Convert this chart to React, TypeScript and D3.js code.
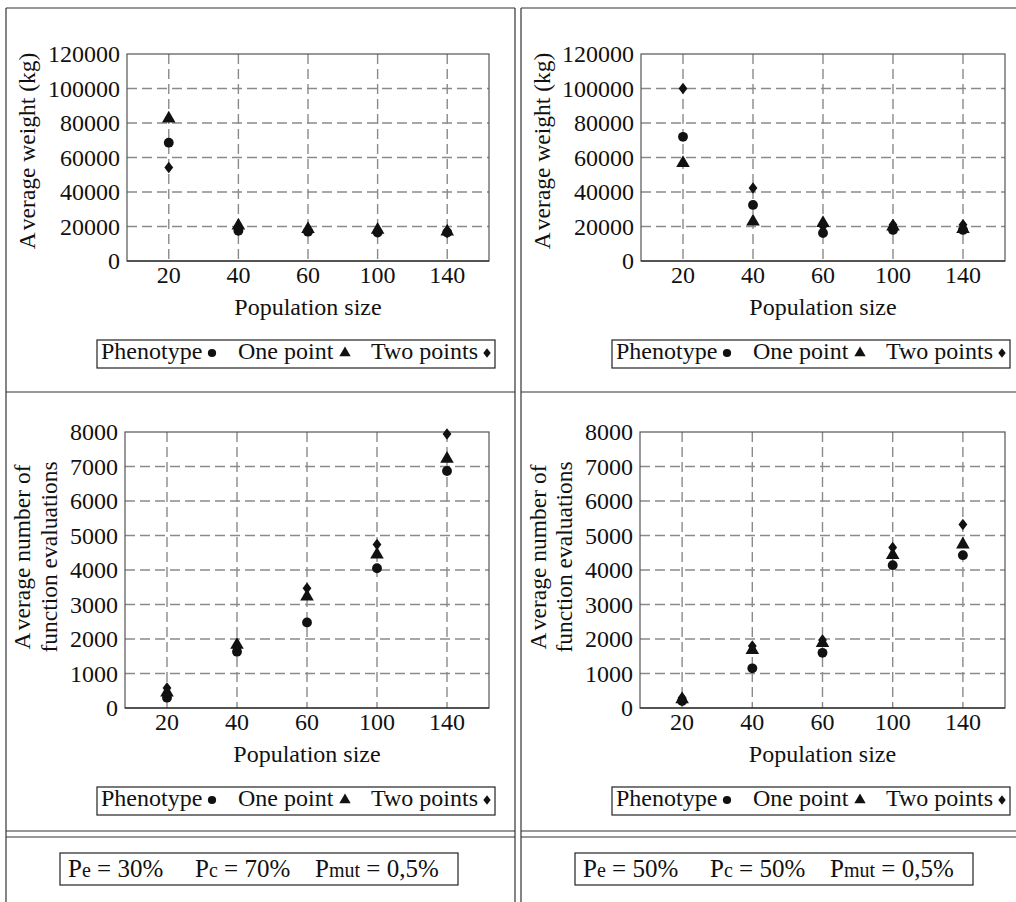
import React from "react";
import * as d3 from "d3";

const categories = ["20", "40", "60", "100", "140"];
const seriesNames = ["Phenotype", "One point", "Two points"];
const weightTicks = [0, 20000, 40000, 60000, 80000, 100000, 120000];
const evalTicks = [0, 1000, 2000, 3000, 4000, 5000, 6000, 7000, 8000];

const weight30Phenotype = [68600, 17500, 17000, 16500, 16500];
const weight30OnePoint = [82500, 20500, 18500, 18000, 17000];
const weight30TwoPoints = [54200, 19000, 17500, 17000, 16500];
const weight50Phenotype = [72000, 32500, 16200, 18000, 18000];
const weight50OnePoint = [56800, 22800, 22000, 20000, 18500];
const weight50TwoPoints = [100000, 42300, 20000, 21000, 21000];
const eval30Phenotype = [300, 1630, 2480, 4050, 6870];
const eval30OnePoint = [450, 1830, 3230, 4450, 7220];
const eval30TwoPoints = [580, 1750, 3470, 4740, 7940];
const eval50Phenotype = [200, 1150, 1600, 4140, 4430];
const eval50OnePoint = [250, 1680, 1880, 4430, 4740];
const eval50TwoPoints = [300, 1800, 1970, 4650, 5320];

const captionLeft = [["P", "e", " = 30%"], ["P", "c", " = 70%"], ["P", "mut", " = 0,5%"]];
const captionRight = [["P", "e", " = 50%"], ["P", "c", " = 50%"], ["P", "mut", " = 0,5%"]];

const FONT = "'Liberation Serif', 'Times New Roman', serif";

const diamondType = {
  draw(ctx: any, size: number) {
    const s = Math.sqrt(size);
    const w = s * 0.5;
    const h = s * 0.65;
    ctx.moveTo(0, -h);
    ctx.lineTo(w, 0);
    ctx.lineTo(0, h);
    ctx.lineTo(-w, 0);
    ctx.closePath();
  },
};
const symbolTypes = [d3.symbolCircle, d3.symbolTriangle, diamondType];
const symbolSizes = [76, 80, 78];
const symPath = (i: number, k = 1) => d3.symbol().type(symbolTypes[i] as any).size(symbolSizes[i] * k)() as string;

type PanelProps = {
  frame: { x0: number; x1: number; y0: number; y1: number };
  ticks: number[];
  series: number[][];
  yLabel: string[];
  labelXs: number[];
  labelY: number;
  legendX: number;
  legendY: number;
};

function YTitle({ text, x, y }: { text: string; x: number; y: number }) {
  const gapAfterA = text.startsWith("A ") ? 0 : text.startsWith("A") ? 4 : 0;
  return (
    <text transform={`translate(${x},${y}) rotate(-90)`} textAnchor="middle" dy="0.35em" fontFamily={FONT} fontSize={23.5} fill="#111">
      {gapAfterA ? (
        <>
          {text.slice(0, 1)}
          <tspan dx={gapAfterA}>{text.slice(1)}</tspan>
        </>
      ) : (
        text
      )}
    </text>
  );
}

function Panel({ frame, ticks, series, yLabel, labelXs, labelY, legendX, legendY }: PanelProps) {
  const x = d3.scalePoint<string>().domain(categories).range([frame.x0, frame.x1]).padding(0.6);
  const y = d3.scaleLinear().domain([0, ticks[ticks.length - 1]]).range([frame.y1, frame.y0]);
  const legendOffsets = [
    { text: 4, sym: 115 },
    { text: 141, sym: 248 },
    { text: 274, sym: 390 },
  ];
  return (
    <g>
      {ticks.slice(1, -1).map((t) => (
        <line key={"h" + t} x1={frame.x0} x2={frame.x1} y1={y(t)} y2={y(t)} stroke="#8a8a8a" strokeWidth={1.4} strokeDasharray="10,5" />
      ))}
      {categories.map((c) => (
        <line key={"v" + c} x1={x(c)} x2={x(c)} y1={frame.y0} y2={frame.y1} stroke="#8a8a8a" strokeWidth={1.4} strokeDasharray="10,5" />
      ))}
      <rect x={frame.x0} y={frame.y0} width={frame.x1 - frame.x0} height={frame.y1 - frame.y0} fill="none" stroke="#555" strokeWidth={1.2} />
      <line x1={frame.x0} x2={frame.x1} y1={frame.y1} y2={frame.y1} stroke="#111" strokeWidth={1.2} />
      {ticks.map((t) => (
        <text key={"yt" + t} x={frame.x0 - 7} y={y(t)} dy="0.35em" textAnchor="end" fontFamily={FONT} fontSize={24} fill="#111">
          {t}
        </text>
      ))}
      {categories.map((c) => (
        <text key={"xt" + c} x={x(c)} y={frame.y1 + 22} textAnchor="middle" fontFamily={FONT} fontSize={24} fill="#111">
          {c}
        </text>
      ))}
      <text x={(frame.x0 + frame.x1) / 2} y={frame.y1 + 54} textAnchor="middle" fontFamily={FONT} fontSize={24} fill="#111">
        Population size
      </text>
      {yLabel.map((l, i) => (
        <YTitle key={l} text={l} x={labelXs[i]} y={labelY} />
      ))}
      {series.map((vals, si) =>
        vals.map((v, i) => (
          <path key={si + "-" + i} d={symPath(si)} transform={`translate(${x(categories[i])},${y(v)})`} fill="#111" />
        ))
      )}
      <rect x={legendX} y={legendY} width={398} height={28} fill="white" stroke="#222" strokeWidth={1.2} />
      {seriesNames.map((n, i) => (
        <g key={n}>
          <text x={legendX + legendOffsets[i].text} y={legendY + 19} fontFamily={FONT} fontSize={24} fill="#111">
            {n}
          </text>
          <path d={symPath(i, 0.7)} transform={`translate(${legendX + legendOffsets[i].sym},${legendY + 13})`} fill="#111" />
        </g>
      ))}
    </g>
  );
}

function Caption({ x, y, w, parts, starts }: { x: number; y: number; w: number; parts: string[][]; starts: number[] }) {
  return (
    <g>
      <rect x={x} y={y} width={w} height={32} fill="white" stroke="#222" strokeWidth={1.2} />
      {parts.map((p, i) => (
        <text key={i} x={x + starts[i]} y={y + 24} fontFamily={FONT} fontSize={25} fill="#111">
          {p[0]}
          <tspan fontSize={20}>{p[1]}</tspan>
          {p[2]}
        </text>
      ))}
    </g>
  );
}

export default function App() {
  const lineColor = "#333";
  const hLines = [8, 392, 831, 837];
  return (
    <svg width={1016} height={902} style={{ position: "absolute", left: 0, top: 0, background: "white" }}>
      <rect width={1016} height={902} fill="white" />
      <line x1={6} x2={6} y1={8} y2={902} stroke={lineColor} strokeWidth={1.2} />
      <line x1={515} x2={515} y1={8} y2={902} stroke={lineColor} strokeWidth={1.2} />
      <line x1={521} x2={521} y1={8} y2={902} stroke={lineColor} strokeWidth={1.2} />
      {hLines.map((hy) => (
        <g key={hy}>
          <line x1={6} x2={515} y1={hy} y2={hy} stroke={lineColor} strokeWidth={1.2} />
          <line x1={521} x2={1016} y1={hy} y2={hy} stroke={lineColor} strokeWidth={1.2} />
        </g>
      ))}

      <Panel
        frame={{ x0: 127, x1: 489, y0: 54, y1: 261 }}
        ticks={weightTicks}
        series={[weight30Phenotype, weight30OnePoint, weight30TwoPoints]}
        yLabel={["Average weight (kg)"]}
        labelXs={[27]}
        labelY={151}
        legendX={97}
        legendY={340}
      />
      <Panel
        frame={{ x0: 641, x1: 1005, y0: 54, y1: 261 }}
        ticks={weightTicks}
        series={[weight50Phenotype, weight50OnePoint, weight50TwoPoints]}
        yLabel={["Average weight (kg)"]}
        labelXs={[542]}
        labelY={151}
        legendX={612}
        legendY={340}
      />
      <Panel
        frame={{ x0: 125, x1: 489, y0: 432, y1: 708 }}
        ticks={evalTicks}
        series={[eval30Phenotype, eval30OnePoint, eval30TwoPoints]}
        yLabel={["Average number of", "function evaluations"]}
        labelXs={[22, 49]}
        labelY={557}
        legendX={97}
        legendY={787}
      />
      <Panel
        frame={{ x0: 640, x1: 1005, y0: 432, y1: 708 }}
        ticks={evalTicks}
        series={[eval50Phenotype, eval50OnePoint, eval50TwoPoints]}
        yLabel={["Average number of", "function evaluations"]}
        labelXs={[538, 564]}
        labelY={557}
        legendX={612}
        legendY={787}
      />
      <Caption x={60} y={853} w={398} parts={captionLeft} starts={[8, 135, 255]} />
      <Caption x={575} y={853} w={398} parts={captionRight} starts={[8, 135, 255]} />
    </svg>
  );
}
